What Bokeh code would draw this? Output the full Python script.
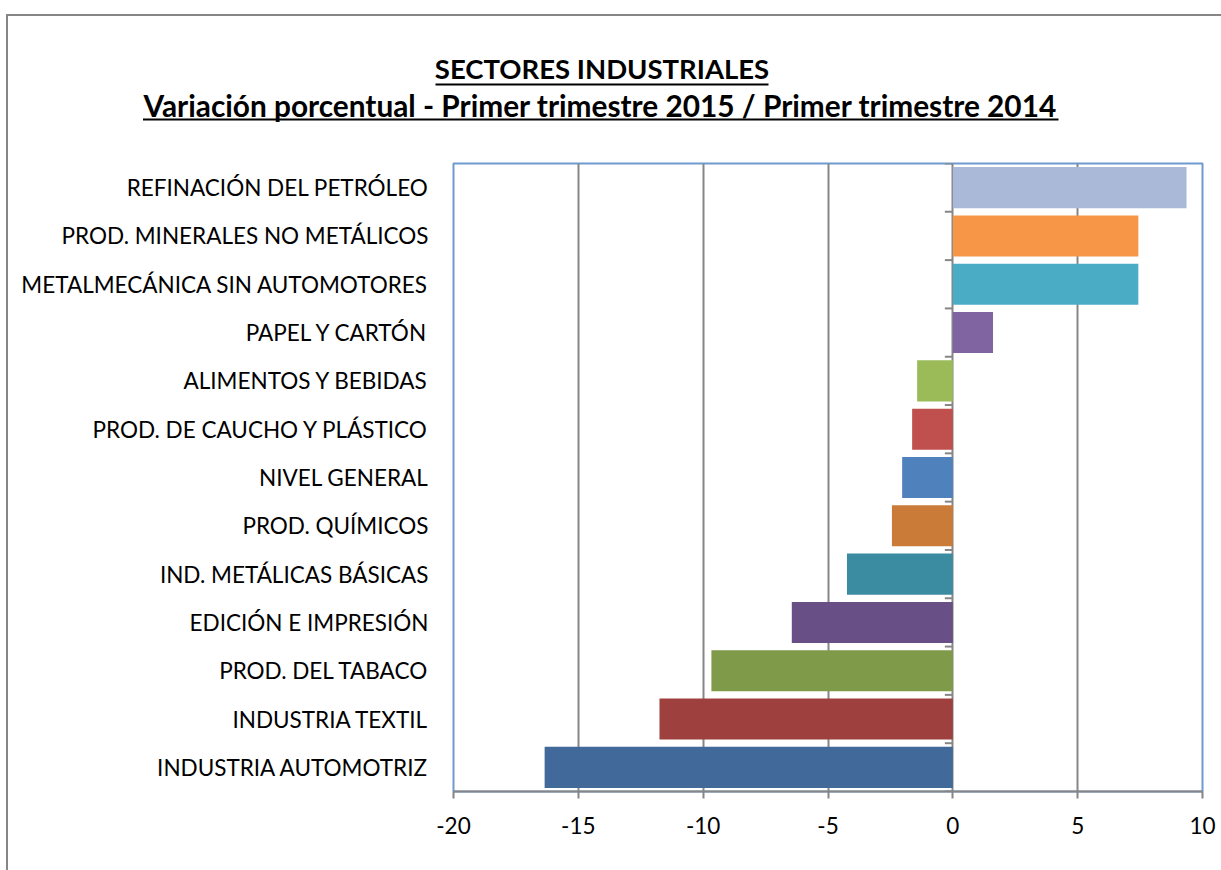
from bokeh.plotting import figure
from bokeh.models import FactorRange, Range1d, FixedTicker, ColumnDataSource
from bokeh.layouts import column
from bokeh.transform import dodge
from bokeh.core.properties import value
from bokeh.embed import file_html
from bokeh.resources import INLINE

# ---- data (top to bottom as in the chart) ----
categories = [
    "REFINACIÓN DEL PETRÓLEO",
    "PROD. MINERALES NO METÁLICOS",
    "METALMECÁNICA SIN AUTOMOTORES",
    "PAPEL Y CARTÓN",
    "ALIMENTOS Y BEBIDAS",
    "PROD. DE CAUCHO Y PLÁSTICO",
    "NIVEL GENERAL",
    "PROD. QUÍMICOS",
    "IND. METÁLICAS BÁSICAS",
    "EDICIÓN E IMPRESIÓN",
    "PROD. DEL TABACO",
    "INDUSTRIA TEXTIL",
    "INDUSTRIA AUTOMOTRIZ",
]
values = [9.36, 7.43, 7.43, 1.61, -1.43, -1.63, -2.03, -2.44, -4.24, -6.45, -9.67, -11.75, -16.35]
colors = ["#A9B9D7", "#F79646", "#4BACC6", "#8064A2", "#9BBB59", "#C0504D", "#4F81BD",
          "#CB7B38", "#3B8BA1", "#684F85", "#7F9A48", "#9D403E", "#41699A"]
x_ticks = [-20, -15, -10, -5, 0, 5, 10]
x_tick_labels = ["-20", "-15", "-10", "-5", "0", "5", "10"]
title_line1 = "SECTORES INDUSTRIALES"
title_line2 = "Variación porcentual - Primer trimestre 2015 / Primer trimestre 2014"

FONT = "Lato"
GRAY = "#868686"
W = 1213
OX, OY = 8, 16   # page offset of the figures (inside the chart border)

# ---- title figure (data coords = canvas pixels) ----
TH = 124
t = figure(width=W, height=TH, x_range=Range1d(0, W), y_range=Range1d(TH, 0),
           x_axis_type=None, y_axis_type=None, output_backend="svg",
           toolbar_location=None, min_border=0)
t.outline_line_color = None
t.grid.visible = False
t.frame_align = False
t.text(x=[601.5 - OX], y=[67.5 - OY], text=[title_line1],
       text_font=value(FONT), text_font_style="bold", text_font_size="27.5px",
       text_align="center", text_baseline="alphabetic", text_color="black")
t.text(x=[600 - OX], y=[105 - OY], text=[title_line2],
       text_font=value(FONT), text_font_style="bold", text_font_size="29.8px",
       text_align="center", text_baseline="alphabetic", text_color="black")
t.segment(x0=[435 - OX, 142.5 - OX], x1=[768 - OX, 1058 - OX], y0=[84 - OY, 119 - OY], y1=[84 - OY, 119 - OY],
          line_color="black", line_width=2)

# ---- main chart ----
src = ColumnDataSource(dict(cat=categories, val=values, color=colors))
p = figure(width=W, height=730, y_range=FactorRange(*categories[::-1]),
           x_range=Range1d(-20, 10), output_backend="svg", toolbar_location=None,
           min_border_left=445, min_border_right=19, min_border_top=23, min_border_bottom=79)
p.frame_align = False
p.outline_line_color = "#6E9AD0"
p.outline_line_width = 2
p.background_fill_color = "white"

p.hbar(y="cat", left=0, right="val", height=0.85, fill_color="color", line_color=None, source=src)

# category boundary ticks along the zero axis
p.segment(x0=-0.32, x1=0, y0=dodge("cat", -0.5, range=p.y_range), y1=dodge("cat", -0.5, range=p.y_range),
          line_color=GRAY, line_width=2, source=src)
top_src = ColumnDataSource(dict(cat=categories[:1]))
p.segment(x0=-0.32, x1=0, y0=dodge("cat", 0.5, range=p.y_range), y1=dodge("cat", 0.5, range=p.y_range),
          line_color=GRAY, line_width=2, source=top_src)

p.ygrid.visible = False
p.xgrid.ticker = FixedTicker(ticks=x_ticks[1:-1])
p.xgrid.grid_line_color = GRAY
p.xgrid.grid_line_width = 2

xa = p.xaxis[0]
xa.ticker = FixedTicker(ticks=x_ticks)
xa.major_label_overrides = dict(zip(x_ticks, x_tick_labels))
xa.axis_line_color = GRAY
xa.axis_line_width = 2
xa.major_tick_line_color = GRAY
xa.major_tick_line_width = 2
xa.major_tick_out = 7
xa.major_tick_in = 0
xa.minor_tick_line_color = None
xa.major_label_text_font = FONT
xa.major_label_text_font_size = "22.5px"
xa.major_label_text_color = "black"
xa.major_label_standoff = 18

ya = p.yaxis[0]
ya.axis_line_color = None
ya.major_tick_line_color = None
ya.minor_tick_line_color = None
ya.major_tick_out = 0
ya.major_tick_in = 0
ya.major_label_text_font = FONT
ya.major_label_text_font_size = "22.5px"
ya.major_label_text_color = "black"
ya.major_label_standoff = 25

layout = column(t, p, margin=(14, 0, 0, 6),
                styles={"border-left": f"2px solid {GRAY}", "border-top": f"2px solid {GRAY}"})

open("out.html", "w").write(file_html(layout, INLINE))
